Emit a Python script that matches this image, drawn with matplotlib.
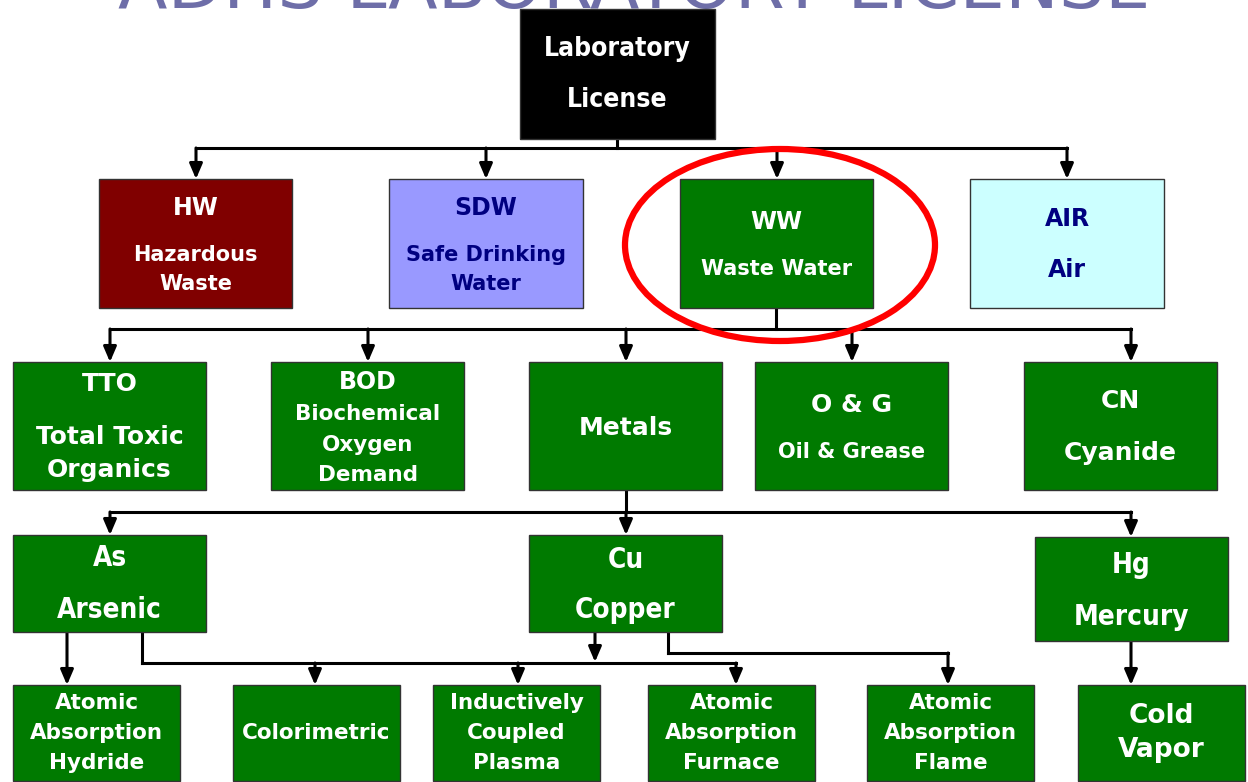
import matplotlib
matplotlib.use("Agg")
import matplotlib.pyplot as plt
from matplotlib import font_manager
from matplotlib.patches import Rectangle, Ellipse

# ---- diagram content ----
title = "ADHS LABORATORY LICENSE"

root_lines = ["Laboratory", "License"]
level1_names = ["HW", "SDW", "WW", "AIR"]
level1_lines = [["HW", "Hazardous", "Waste"],
                ["SDW", "Safe Drinking", "Water"],
                ["WW", "Waste Water"],
                ["AIR", "Air"]]
level2_names = ["TTO", "BOD", "Metals", "O&G", "CN"]
level2_lines = [["TTO", "Total Toxic", "Organics"],
                ["BOD", "Biochemical", "Oxygen", "Demand"],
                ["Metals"],
                ["O & G", "Oil & Grease"],
                ["CN", "Cyanide"]]
level3_names = ["As", "Cu", "Hg"]
level3_lines = [["As", "Arsenic"], ["Cu", "Copper"], ["Hg", "Mercury"]]
level4_names = ["AAH", "COL", "ICP", "AAFu", "AAFl", "CV"]
level4_lines = [["Atomic", "Absorption", "Hydride"],
                ["Colorimetric"],
                ["Inductively", "Coupled", "Plasma"],
                ["Atomic", "Absorption", "Furnace"],
                ["Atomic", "Absorption", "Flame"],
                ["Cold", "Vapor"]]

# ---- layout (pixels, y down) ----
boxes = {
    "LAB": (520, 9, 195, 130),
    "HW": (99, 179, 193, 129), "SDW": (389, 179, 194, 129),
    "WW": (680, 179, 193, 129), "AIR": (970, 179, 194, 129),
    "TTO": (13, 362, 193, 128), "BOD": (271, 362, 193, 128),
    "Metals": (529, 362, 193, 128), "O&G": (755, 362, 193, 128),
    "CN": (1024, 362, 193, 128),
    "As": (13, 535, 193, 97), "Cu": (529, 535, 193, 97), "Hg": (1035, 537, 193, 104),
    "AAH": (13, 685, 167, 96), "COL": (233, 685, 167, 96), "ICP": (433, 685, 167, 96),
    "AAFu": (648, 685, 167, 96), "AAFl": (867, 685, 167, 96), "CV": (1078, 685, 167, 96),
}
green = "#007A00"
fills = {"LAB": "black", "HW": "#800000", "SDW": "#9999FF", "WW": green, "AIR": "#CCFFFF"}
text_col = {"SDW": "#000080", "AIR": "#000080"}

# text line centres (y) and sizes for each box
line_y = {
    "LAB": [49, 100], "HW": [208, 255, 284], "SDW": [208, 255, 284],
    "WW": [222, 269], "AIR": [219, 270],
    "TTO": [384, 437, 470], "BOD": [382, 414, 445, 475], "Metals": [428],
    "O&G": [405, 452], "CN": [401, 453],
    "As": [558, 610], "Cu": [560, 610], "Hg": [565, 617],
    "AAH": [703, 733, 763], "COL": [733], "ICP": [703, 733, 763],
    "AAFu": [703, 733, 763], "AAFl": [703, 733, 763], "CV": [716, 750],
}
line_fs = {
    "LAB": [19, 19], "HW": [17, 15, 15], "SDW": [17, 15, 15],
    "WW": [17, 15], "AIR": [17, 17],
    "TTO": [18, 18, 18], "BOD": [17, 15.5, 15.5, 15.5], "Metals": [18],
    "O&G": [18, 15], "CN": [18, 18],
    "As": [20, 20], "Cu": [20, 20], "Hg": [20, 20],
    "AAH": [15.5, 15.5, 15.5], "COL": [15.5], "ICP": [15.5, 15.5, 15.5],
    "AAFu": [15.5, 15.5, 15.5], "AAFl": [15.5, 15.5, 15.5], "CV": [19, 19],
}
narrow = {"LAB", "As", "Cu", "Hg"}

labels = {"LAB": root_lines}
for names, lines in [(level1_names, level1_lines), (level2_names, level2_lines),
                     (level3_names, level3_lines), (level4_names, level4_lines)]:
    for n, l in zip(names, lines):
        labels[n] = l

# a narrow face for the Tw Cen style labels, if one is installed
installed = {f.name for f in font_manager.fontManager.ttflist}
has_cond = any(f.name == "DejaVu Sans" and "condensed" in str(f.stretch)
               for f in font_manager.fontManager.ttflist)
if "Liberation Sans Narrow" in installed:
    narrow_font = dict(family=["Liberation Sans Narrow", "DejaVu Sans"])
    narrow_scale = 1.08
elif has_cond:
    narrow_font = dict(family=["DejaVu Sans"], fontstretch="condensed")
    narrow_scale = 1.0
else:
    narrow_font = dict(family=["DejaVu Sans"])
    narrow_scale = 0.9

fig = plt.figure(figsize=(12.48, 7.82), dpi=100)
ax = fig.add_axes([0, 0, 1, 1])
ax.set_xlim(0, 1248)
ax.set_ylim(782, 0)
ax.axis("off")

LW = 2.2


def line(xs, ys):
    ax.plot(xs, ys, color="black", lw=LW, solid_capstyle="projecting", zorder=2)


def arrow(x, y0, y1):
    ax.annotate("", xy=(x, y1), xytext=(x, y0),
                arrowprops=dict(arrowstyle="-|>,head_length=0.7,head_width=0.3",
                                color="black", lw=LW, shrinkA=0, shrinkB=0,
                                mutation_scale=13), zorder=2)


# connectors
line([617, 617], [139, 148])
line([196, 1067], [148, 148])
for xc in [196, 486, 777, 1067]:
    arrow(xc, 148, 179)

line([776, 776], [308, 329])
line([110, 1131], [329, 329])
for xc in [110, 368, 626, 852, 1131]:
    arrow(xc, 329, 362)

line([626, 626], [490, 512])
line([110, 1131], [512, 512])
for xc in [110, 626, 1131]:
    arrow(xc, 512, 535 if xc < 1000 else 537)

arrow(67, 632, 685)
line([142, 142], [632, 663])
line([142, 736], [663, 663])
for xc in [315, 518, 736]:
    arrow(xc, 663, 685)
arrow(595, 632, 662)
line([668, 668], [632, 653])
line([668, 948], [653, 653])
arrow(948, 653, 685)
arrow(1131, 641, 685)

# boxes
for key, (x, y, w, h) in boxes.items():
    ax.add_patch(Rectangle((x, y), w, h, facecolor=fills.get(key, green),
                           edgecolor="#333333", lw=1.0, zorder=3))
    cx = x + w / 2
    for txt, ty, fs in zip(labels[key], line_y[key], line_fs[key]):
        if key in narrow:
            kw = dict(narrow_font)
            fs = fs * narrow_scale
        else:
            kw = dict(family=["DejaVu Sans"])
        ax.text(cx, ty, txt, ha="center", va="center", fontsize=fs, fontweight="bold",
                color=text_col.get(key, "white"), zorder=4, **kw)

# highlight ring around Waste Water
ax.add_patch(Ellipse((780, 245), 310, 192, fill=False, edgecolor="#FF0000", lw=4.5, zorder=5))

# title, cut off at top of the slide
ax.text(634, 8, title, ha="center", va="baseline", fontsize=52, color="#6E6EA8",
        family="DejaVu Sans", zorder=1)

fig.savefig("out.png", dpi=100)
